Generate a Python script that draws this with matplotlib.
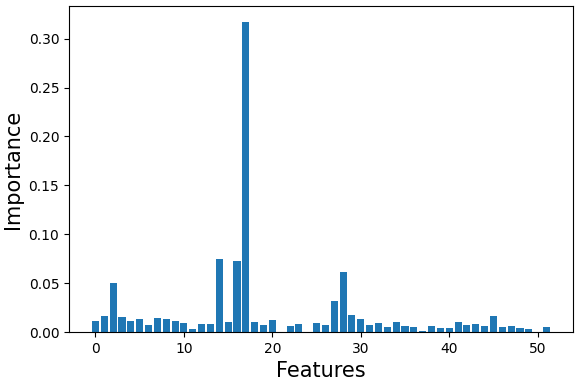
import numpy as np
import matplotlib.pyplot as plt

importance = [0.0116, 0.0163, 0.0503, 0.0153, 0.0116, 0.0136, 0.0071, 0.0146, 0.0136, 0.0116,
              0.0095, 0.0034, 0.0085, 0.0085, 0.0748, 0.0105, 0.0728, 0.3175, 0.0105, 0.0071,
              0.0126, 0.0, 0.0065, 0.0085, 0.0, 0.0095, 0.0075, 0.0320, 0.0616, 0.0177,
              0.0136, 0.0075, 0.0095, 0.0054, 0.0105, 0.0065, 0.0054, 0.0014, 0.0065, 0.0044,
              0.0044, 0.0105, 0.0075, 0.0085, 0.0065, 0.0167, 0.0054, 0.0065, 0.0044, 0.0034,
              0.0, 0.0054]
features = np.arange(len(importance))

fig = plt.figure(figsize=(5.75, 3.79), dpi=100)
ax = fig.add_axes([69/575, 1 - 332/379, 504/575, 326/379])
ax.bar(features, importance)
ax.set_xlabel('Features', fontsize=15)
ax.set_ylabel('Importance', fontsize=15)
fig.savefig('out.png', dpi=100)
